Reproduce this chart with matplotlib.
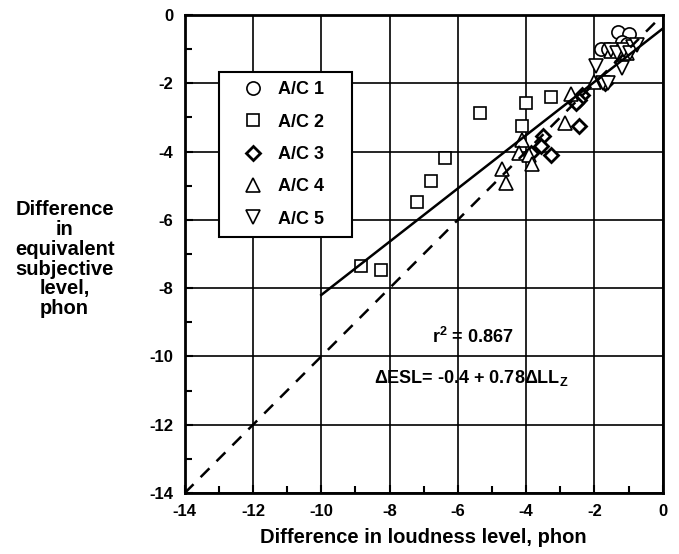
import matplotlib
matplotlib.use('Agg')
import matplotlib.pyplot as plt
from matplotlib.ticker import MultipleLocator
import numpy as np

plt.rcParams['font.family'] = ['Liberation Sans', 'DejaVu Sans']
plt.rcParams['font.weight'] = 'bold'
plt.rcParams['axes.unicode_minus'] = False
plt.rcParams['mathtext.fontset'] = 'custom'
plt.rcParams['mathtext.rm'] = 'Liberation Sans:bold'
plt.rcParams['mathtext.bf'] = 'Liberation Sans:bold'
plt.rcParams['mathtext.default'] = 'bf'

# data (difference in loudness level, difference in ESL)
ac1_x = [-1.32, -0.98, -1.80, -1.60, -1.20, -1.05]
ac1_y = [-0.50, -0.55, -1.00, -1.00, -0.78, -0.85]
ac2_x = [-8.84, -8.26, -7.20, -6.78, -6.38, -5.35, -4.00, -4.13, -3.28]
ac2_y = [-7.35, -7.47, -5.47, -4.85, -4.20, -2.86, -2.59, -3.25, -2.39]
ac3_x = [-2.36, -2.45, -2.55, -2.45, -3.52, -3.57, -3.28, -3.85, -1.70]
ac3_y = [-2.34, -2.49, -2.59, -3.26, -3.55, -3.85, -4.10, -4.05, -2.00]
ac4_x = [-2.70, -2.86, -4.12, -4.20, -3.92, -3.82, -4.70, -4.58, -1.50, -1.05, -2.00]
ac4_y = [-2.32, -3.16, -3.67, -4.05, -4.10, -4.36, -4.52, -4.91, -1.05, -1.10, -1.95]
ac5_x = [-1.95, -1.52, -1.33, -1.14, -0.86, -1.20, -1.74, -1.59, -0.96, -0.76]
ac5_y = [-1.48, -1.02, -1.12, -1.02, -0.93, -1.56, -2.00, -2.00, -1.12, -0.88]

fit_a, fit_b = -0.4, 0.78
fit_x = [-10, 0]
ident_x = [-14, 0]

fig = plt.figure(figsize=(6.79, 5.54), dpi=100)
ax = fig.add_axes([0.272, 0.110, 0.704, 0.863])

ax.set_xlim(-14, 0)
ax.set_ylim(-14, 0)
ax.xaxis.set_major_locator(MultipleLocator(2))
ax.yaxis.set_major_locator(MultipleLocator(2))
ax.xaxis.set_minor_locator(MultipleLocator(1))
ax.yaxis.set_minor_locator(MultipleLocator(1))
ax.grid(True, which='major', color='black', linewidth=1.2, zorder=0)
ax.set_axisbelow(True)
ax.tick_params(which='major', direction='in', length=6, width=1.5, labelsize=12, pad=8)
ax.tick_params(which='minor', direction='in', length=5, width=1.5)
for lab in ax.get_xticklabels() + ax.get_yticklabels():
    lab.set_fontweight('bold')
for s in ax.spines.values():
    s.set_linewidth(2)

ax.plot(ident_x, ident_x, color='black', linewidth=1.8, dashes=(5, 4), zorder=4)
fx = np.array(fit_x)
ax.plot(fx, fit_a + fit_b * fx, color='black', linewidth=1.8, zorder=4)

mk = dict(linestyle='none', markerfacecolor='white', markeredgecolor='black', zorder=3)
ax.plot(ac1_x, ac1_y, marker='o', markersize=9.5, markeredgewidth=1.2, label='A/C 1', **mk)
ax.plot(ac2_x, ac2_y, marker='s', markersize=8.5, markeredgewidth=1.2, label='A/C 2', **mk)
ax.plot(ac3_x, ac3_y, marker='D', markersize=7.3, markeredgewidth=2, label='A/C 3', **mk)
ax.plot(ac4_x, ac4_y, marker='^', markersize=9.5, markeredgewidth=1.2, label='A/C 4', **mk)
ax.plot(ac5_x, ac5_y, marker='v', markersize=9.5, markeredgewidth=1.2, label='A/C 5', **mk)

leg = ax.legend(loc='upper left', bbox_to_anchor=(0.071, 0.881 - 0.4, 0.280, 0.4), mode='expand',
                fancybox=False, framealpha=1, edgecolor='black', fontsize=13, labelspacing=0.85,
                borderpad=0.53, handletextpad=0.08, borderaxespad=0, handlelength=2.7)
leg.get_frame().set_linewidth(1.5)
leg.set_zorder(5)

ax.text(-5.55, -9.43, r'r$^2$ = 0.867', ha='center', va='center', fontsize=13, fontweight='bold')
ax.text(-5.6, -10.63, r'$\Delta$ESL= -0.4 + 0.78$\Delta$LL$_Z$', ha='center', va='center',
        fontsize=13, fontweight='bold')

ax.set_xlabel('Difference in loudness level, phon', fontsize=14.5, fontweight='bold', labelpad=6)
fig.text(0.095, 0.532, 'Difference\nin\nequivalent\nsubjective\nlevel,\nphon', ha='center', va='center',
         fontsize=14.5, fontweight='bold', linespacing=1.05)

fig.savefig('out.png', dpi=100)
